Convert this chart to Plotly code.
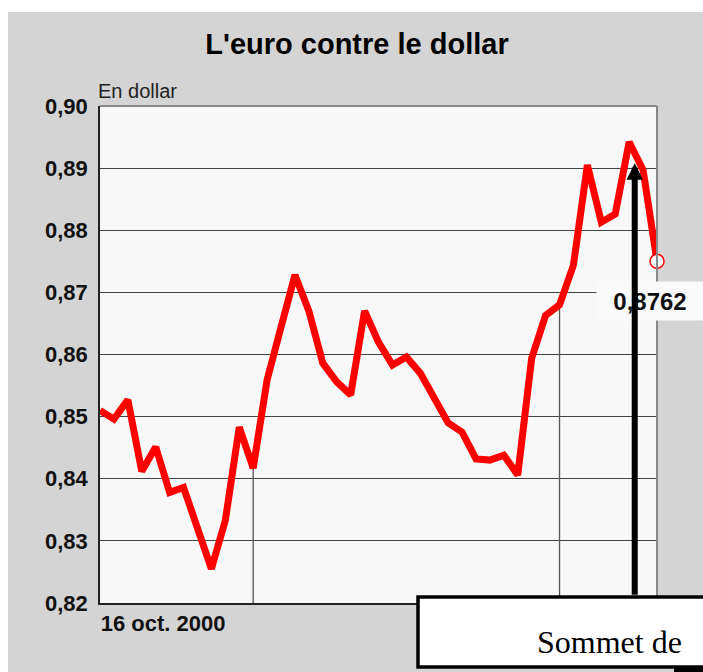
import plotly.graph_objects as go

# ---------------- data ----------------
dates = [
    "2000-10-16", "2000-10-17", "2000-10-18", "2000-10-19", "2000-10-20",
    "2000-10-23", "2000-10-24", "2000-10-25", "2000-10-26", "2000-10-27",
    "2000-10-30", "2000-10-31",
    "2000-11-01", "2000-11-02", "2000-11-03", "2000-11-06", "2000-11-07",
    "2000-11-08", "2000-11-09", "2000-11-10", "2000-11-13", "2000-11-14",
    "2000-11-15", "2000-11-16", "2000-11-17", "2000-11-20", "2000-11-21",
    "2000-11-22", "2000-11-23", "2000-11-24", "2000-11-27", "2000-11-28",
    "2000-11-29", "2000-11-30",
    "2000-12-01", "2000-12-04", "2000-12-05", "2000-12-06", "2000-12-07",
    "2000-12-08", "2000-12-11",
]
eur_usd = [
    0.8510, 0.8496, 0.8527, 0.8412, 0.8451, 0.8378, 0.8386, 0.8322, 0.8255,
    0.8333, 0.8483, 0.8417,
    0.8559, 0.8644, 0.8728, 0.8670, 0.8586, 0.8556, 0.8535, 0.8670, 0.8620,
    0.8583, 0.8596, 0.8570, 0.8531, 0.8490, 0.8475, 0.8432, 0.8430, 0.8438,
    0.8406, 0.8594, 0.8663, 0.8680,
    0.8744, 0.8905, 0.8813, 0.8826, 0.8942, 0.8897, 0.8750,
]
month_end_idx = [11, 33]          # vertical month separators
y_ticks = [0.82, 0.83, 0.84, 0.85, 0.86, 0.87, 0.88, 0.89, 0.90]
x_tick_label = "16 oct. 2000"
last_label = "0,8762"
title_text = "L'euro contre le dollar"
unit_text = "En dollar"
box_text = "Sommet de"
peak_arrow_pos = 38.4             # category index the arrow points at
peak_arrow_val = 0.8908

# ---------------- geometry helpers ----------------
W, H = 703, 672
L, R, T, B = 100, 46, 106, 69
PW, PH = W - L - R, H - T - B


def px(x):
    return (x - L) / PW


def py(y):
    return (H - B - y) / PH


SANS = "Liberation Sans, Arial, sans-serif"

fig = go.Figure()

fig.add_trace(go.Scatter(x=dates, y=eur_usd, mode="lines",
                         line=dict(color="rgba(0,0,0,0)", width=0),
                         hoverinfo="skip", showlegend=False))

# month separator lines from the bottom up to the curve
vx, vy = [], []
for i in month_end_idx:
    vx += [dates[i], dates[i], None]
    vy += [y_ticks[0], eur_usd[i], None]
fig.add_trace(go.Scatter(x=vx, y=vy, mode="lines",
                         line=dict(color="#555555", width=1.3),
                         hoverinfo="skip", showlegend=False))

fig.add_trace(go.Scatter(x=dates, y=eur_usd, mode="lines",
                         line=dict(color="#ff0000", width=7),
                         cliponaxis=False, showlegend=False))
fig.add_trace(go.Scatter(x=[dates[-1]], y=[eur_usd[-1]], mode="markers",
                         marker=dict(size=14, color="white",
                                     line=dict(color="#ff0000", width=1.5)),
                         cliponaxis=False, showlegend=False))

fig.update_layout(
    width=W, height=H,
    margin=dict(l=L, r=R, t=T, b=B, pad=0),
    paper_bgcolor="#d4d4d4",
    plot_bgcolor="#f8f8f8",
    separators=", ",
    showlegend=False,
    title=dict(text=title_text, x=357 / W, y=1 - 44 / H, xref="container",
               yref="container", xanchor="center", yanchor="middle",
               font=dict(family=SANS, size=29, color="#000000", weight="bold")),
)

fig.update_xaxes(
    type="category", categoryorder="array", categoryarray=dates,
    range=[0, len(dates) - 1],
    showgrid=False, zeroline=False,
    showline=True, linecolor="#222222", linewidth=1.5,
    ticks="", tickvals=[dates[0]], ticktext=[x_tick_label],
    ticklabelposition="outside right",
    tickfont=dict(family=SANS, size=22, color="#111111", weight="bold"),
)
fig.update_yaxes(
    range=[y_ticks[0], y_ticks[-1]], tickvals=y_ticks, tickformat=".2f",
    showgrid=True, gridcolor="#444444", gridwidth=1.3, zeroline=False,
    showline=True, linecolor="#222222", linewidth=1.5,
    ticks="", ticklabelstandoff=6,
    tickfont=dict(family=SANS, size=22, color="#111111", weight="bold"),
)

shapes = [
    # white margins around the grey panel
    dict(type="rect", xref="paper", yref="paper", x0=px(-5), x1=px(W + 5),
         y0=py(12), y1=py(-5), fillcolor="white", line=dict(width=0),
         layer="below"),
    dict(type="rect", xref="paper", yref="paper", x0=px(-5), x1=px(8),
         y0=py(H + 5), y1=py(-5), fillcolor="white", line=dict(width=0),
         layer="below"),
    # grey top and right border of the plot
    dict(type="line", xref="paper", yref="paper", x0=0, x1=1, y0=1, y1=1,
         line=dict(color="#888888", width=2)),
    dict(type="line", xref="paper", yref="paper", x0=1, x1=1, y0=0, y1=1,
         line=dict(color="#888888", width=2)),
    # "Sommet de" box
    dict(type="rect", xref="paper", yref="paper", x0=px(418), x1=px(715),
         y0=py(667), y1=py(597), fillcolor="white",
         line=dict(color="black", width=3.5), layer="above"),
    dict(type="rect", xref="paper", yref="paper", x0=px(674), x1=px(710),
         y0=py(676), y1=py(668), fillcolor="black", line=dict(width=0),
         layer="above"),
]
fig.update_layout(shapes=shapes)

annotations = [
    dict(text=unit_text, xref="paper", yref="paper", x=px(96), y=py(104),
         xanchor="left", yanchor="bottom", showarrow=False,
         font=dict(family=SANS, size=20, color="#222222")),
    dict(text=last_label, xref="paper", yref="paper", x=px(650), y=py(301),
         xanchor="center", yanchor="middle", showarrow=False,
         bgcolor="#fafafa", width=104, height=36,
         font=dict(family=SANS, size=24, color="#111111", weight="bold")),
    dict(text="", xref="x", yref="y", x=peak_arrow_pos, y=peak_arrow_val,
         showarrow=True, ax=0, ay=433, arrowcolor="black", arrowwidth=6,
         arrowhead=2, arrowsize=0.55, standoff=0),
    dict(text=box_text, xref="paper", yref="paper", x=px(684), y=py(642),
         xanchor="right", yanchor="middle", showarrow=False,
         font=dict(family="Liberation Serif, Times New Roman, serif",
                   size=32, color="black")),
]
fig.update_layout(annotations=annotations)

fig.write_html(
    "out.html",
    config={"displayModeBar": False},
    post_script="document.body.style.margin='0';document.body.style.overflow='hidden';",
)
